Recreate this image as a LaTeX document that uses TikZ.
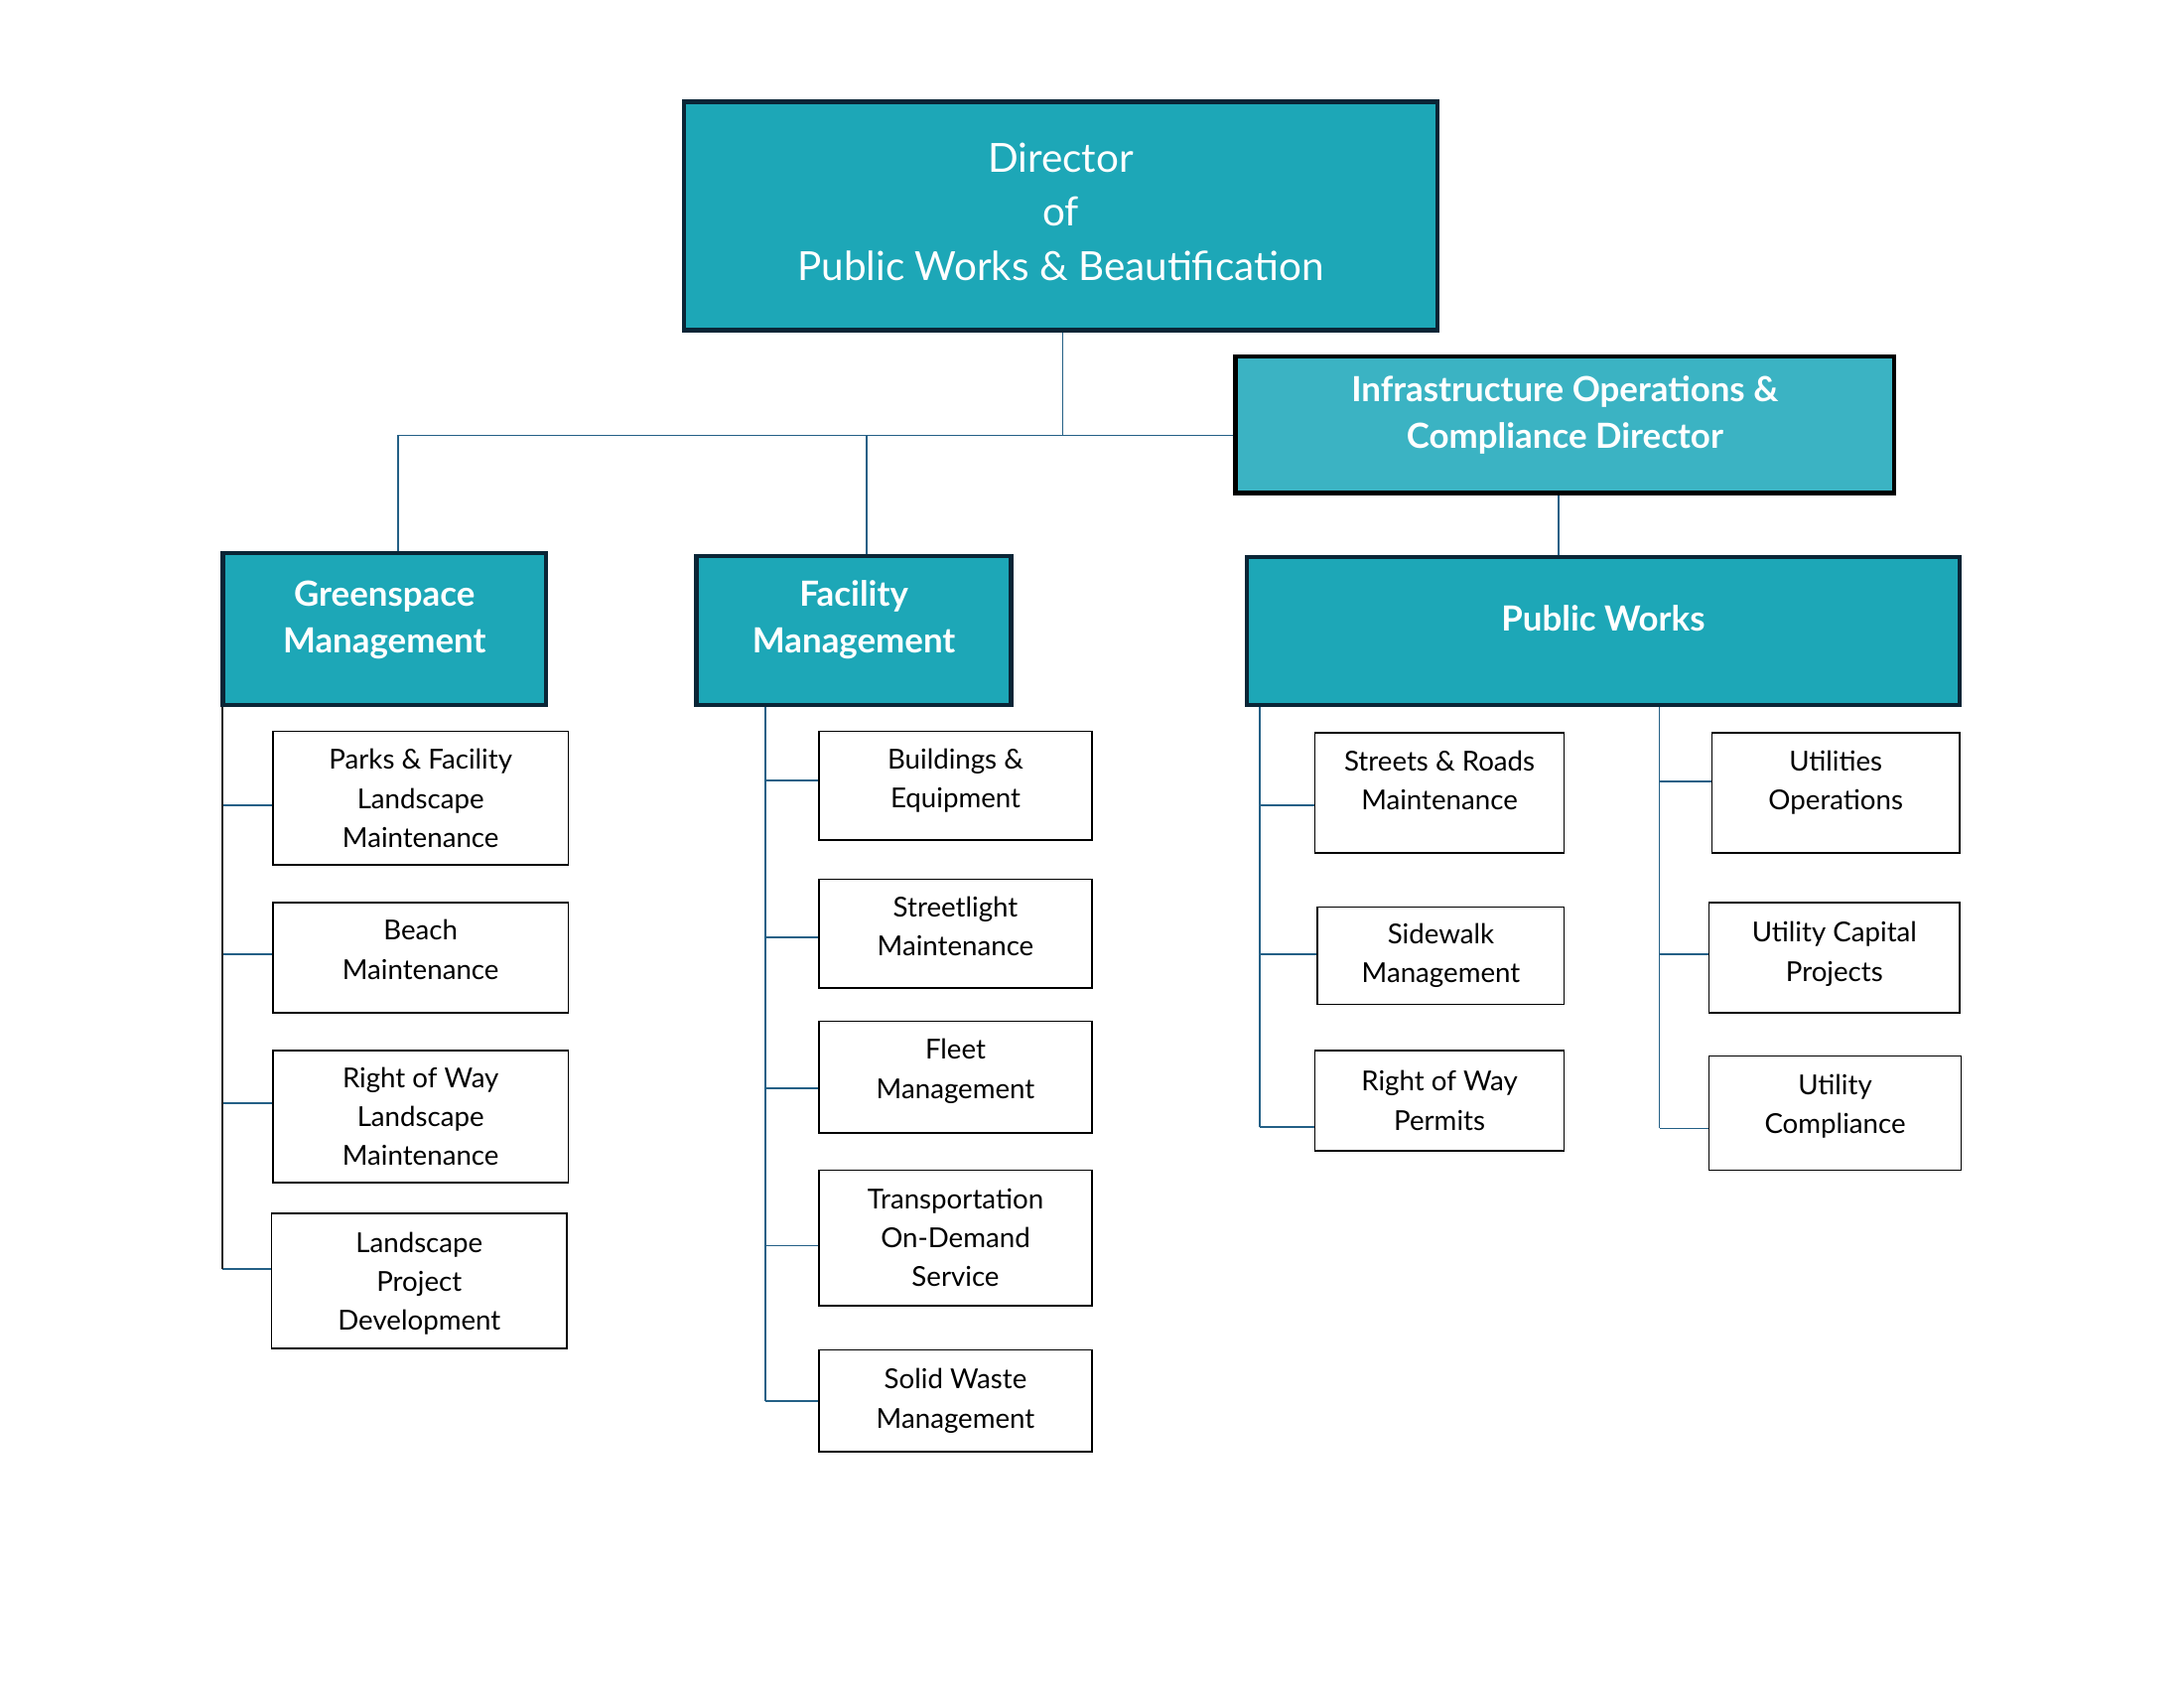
\documentclass[tikz,border=0pt]{standalone}
\usepackage{fontspec}
\setmainfont{Lato}
\usepackage{tikz}
\usetikzlibrary{calc}
\definecolor{tealfill}{RGB}{29,167,183}
\definecolor{tealsoft}{RGB}{59,179,195}
\definecolor{navyline}{RGB}{10,37,54}
\definecolor{linkblue}{RGB}{36,96,134}
\newcommand{\pxl}{0.01782cm}

\begin{document}
\begin{tikzpicture}[x=0.01782cm, y=-0.01782cm,
  head/.style={draw=navyline, line width=1.6pt, fill=tealfill, text=white, align=center, inner sep=0pt},
  unit/.style={head, font=\fontsize{12.6}{17}\selectfont\bfseries},
  team/.style={draw=black, line width=0.6pt, fill=white, align=center, inner sep=0pt, font=\fontsize{10}{14.2}\selectfont},
  boxsize/.style 2 args={minimum width=#1*\pxl, minimum height=#2*\pxl},
  raised/.style={text depth=#1},
  link/.style={draw=linkblue, line width=0.6pt},
  spine/.style={draw=black!85, line width=0.6pt}
]
\useasboundingbox (0,0) rectangle (1568,1212);

\node[head, font=\fontsize{14.6}{19.7}\selectfont, boxsize={541}{164}, raised=0.11cm] (dir) at (761.5,155) {Director\\of\\Public Works \& Beautification};
\node[unit, fill=tealsoft, draw=black, boxsize={473}{98}, raised=0.32cm] (io) at (1123.5,305) {Infrastructure Operations \&\\Compliance Director};

\node[unit, boxsize={232}{109}, raised=0.32cm] (gm) at (276,451.5) {Greenspace\\Management};
\node[unit, boxsize={226}{107}, raised=0.34cm] (fm) at (613,452.5) {Facility\\Management};
\node[unit, boxsize={512}{106}, raised=0.32cm] (pw) at (1151,453) {Public Works};

\node[team, boxsize={212}{96}] (pf) at (302,573) {Parks \& Facility\\Landscape\\Maintenance};
\node[team, boxsize={212}{79}, raised=0.21cm] (bm) at (302,687.5) {Beach\\Maintenance};
\node[team, boxsize={212}{95}] (rl) at (302,801.5) {Right of Way\\Landscape\\Maintenance};
\node[team, boxsize={212}{97}, raised=0cm] (lp) at (301,919.5) {Landscape\\Project\\Development};

\node[team, boxsize={196}{78}, raised=0.19cm] (be) at (686,564) {Buildings \&\\Equipment};
\node[team, boxsize={196}{78}, raised=0.18cm] (sl) at (686,670) {Streetlight\\Maintenance};
\node[team, boxsize={196}{80}, raised=0.21cm] (fl) at (686,773) {Fleet\\Management};
\node[team, boxsize={196}{97}] (tr) at (686,888.5) {Transportation\\On-Demand\\Service};
\node[team, boxsize={196}{73}] (sw) at (686,1005.5) {Solid Waste\\Management};

\node[team, boxsize={179}{86}, raised=0.32cm] (sr) at (1033.5,569) {Streets \& Roads\\Maintenance};
\node[team, boxsize={177}{70}] (sk) at (1034.5,686) {Sidewalk\\Management};
\node[team, boxsize={179}{72}] (rp) at (1033.5,790) {Right of Way\\Permits};

\node[team, boxsize={178}{86}, raised=0.32cm] (uo) at (1318,569) {Utilities\\Operations};
\node[team, boxsize={180}{79}, raised=0.16cm] (uc) at (1317,687.5) {Utility Capital\\Projects};
\node[team, boxsize={181}{82}, raised=0.23cm] (ul) at (1317.5,799) {Utility\\Compliance};

\coordinate (dbot) at ([xshift=1.5*\pxl]dir.south);
\coordinate (hub) at ($(dbot)+(0,74)$);
\coordinate (gtop) at ([xshift=10*\pxl]gm.north);
\coordinate (ftop) at ([xshift=9*\pxl]fm.north);
\coordinate (iob) at ([xshift=-4.5*\pxl]io.south);
\draw[link] (dbot) -- (hub);
\draw[link] (hub) -- (hub -| io.west);
\draw[link] (gtop) |- (hub);
\draw[link] (ftop) -- (ftop |- hub);
\draw[link] (iob) -- (iob |- pw.north);

\coordinate (gsp) at ([xshift=\pxl]gm.south west);
\coordinate (fsp) at ([xshift=51*\pxl]fm.south west);
\coordinate (psp) at ([xshift=11*\pxl]pw.south west);
\coordinate (usp) at ([xshift=298*\pxl]pw.south west);

\foreach \n/\d in {pf/5,bm/-2.5,rl/-9.5,lp/-8.5} {
  \coordinate (b\n) at ([yshift=-\d*\pxl]\n.west);
  \draw[link] (b\n) -- (b\n -| gsp);
}
\draw[spine] (gsp) -- (gsp |- blp);

\foreach \n/\d in {be/-4,sl/3,fl/8,tr/5.5,sw/0} {
  \coordinate (b\n) at ([yshift=-\d*\pxl]\n.west);
  \draw[link] (b\n) -- (b\n -| fsp);
}
\draw[link] (fsp) -- (fsp |- bsw);

\foreach \n/\d in {sr/9,sk/-1,rp/19} {
  \coordinate (b\n) at ([yshift=-\d*\pxl]\n.west);
  \draw[link] (b\n) -- (b\n -| psp);
}
\draw[link] (psp) -- (psp |- brp);

\foreach \n/\d in {uo/-8,uc/-2.5,ul/11} {
  \coordinate (b\n) at ([yshift=-\d*\pxl]\n.west);
  \draw[link] (b\n) -- (b\n -| usp);
}
\draw[link] (usp) -- (usp |- bul);
\end{tikzpicture}
\end{document}
